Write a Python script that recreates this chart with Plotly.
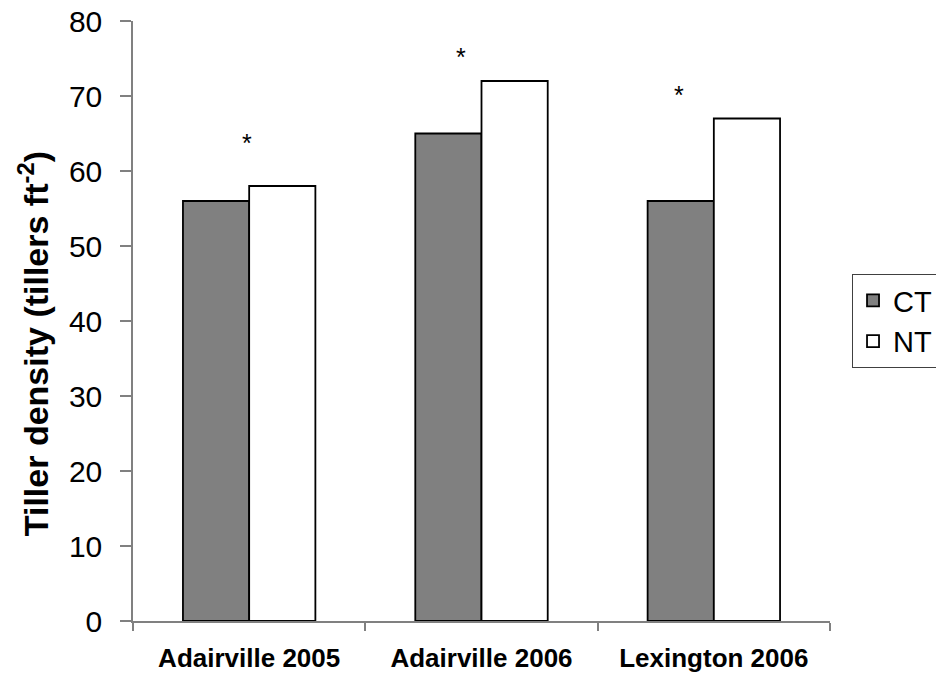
import plotly.graph_objects as go

categories = ["Adairville 2005", "Adairville 2006", "Lexington 2006"]
ct_values = [56, 65, 56]
nt_values = [58, 72, 67]
star_values = [64, 75.5, 70.4]
star_offsets = [-0.01, -0.09, -0.15]
y_title = "<b>Tiller density (tillers ft<sup>-2</sup>)</b>"

FONT = "Liberation Sans, Arial, sans-serif"

fig = go.Figure()
fig.add_trace(go.Bar(x=categories, y=ct_values, name="CT",
                     marker=dict(color="#808080", line=dict(color="black", width=1.8))))
fig.add_trace(go.Bar(x=categories, y=nt_values, name="NT",
                     marker=dict(color="white", line=dict(color="black", width=1.8))))

for i, (v, off) in enumerate(zip(star_values, star_offsets)):
    fig.add_annotation(x=i + off, y=v, text="*", showarrow=False,
                       font=dict(size=25, color="black", family=FONT),
                       yanchor="middle", yshift=-2)

fig.add_annotation(text=y_title, textangle=-90, showarrow=False,
                   xref="paper", yref="paper", x=-0.1435, y=0.463,
                   xanchor="center", yanchor="middle",
                   font=dict(size=34, color="black", family=FONT))

fig.update_layout(
    width=936, height=677,
    margin=dict(l=133, r=106, t=21, b=56, autoexpand=False),
    paper_bgcolor="white", plot_bgcolor="white",
    barmode="group", bargap=0.43, bargroupgap=0,
    font=dict(family=FONT, color="black"),
    showlegend=True,
    legend=dict(x=1.0316, y=0.5, xanchor="left", yanchor="middle",
                bordercolor="#404040", borderwidth=1,
                font=dict(size=29), tracegroupgap=0, itemwidth=30),
    xaxis=dict(showline=True, linecolor="#808080", linewidth=1.5,
               ticks="outside", tickson="boundaries", ticklen=8, tickcolor="#808080",
               tickwidth=1.5, automargin=False,
               tickfont=dict(size=26, family=FONT),
               ticklabelstandoff=13, showgrid=False,
               tickvals=categories,
               ticktext=["<b>%s</b>" % c for c in categories]),
    yaxis=dict(range=[0, 80], dtick=10, showline=True, linecolor="#808080", linewidth=1.5,
               ticks="outside", ticklen=11, tickcolor="#808080", tickwidth=1.5,
               tickfont=dict(size=30), showgrid=False, zeroline=False,
               ticklabelstandoff=12, automargin=False),
)

fig.write_html("out.html", config={"displayModeBar": False},
               post_script="document.body.style.margin='0';document.body.style.overflow='hidden';")
